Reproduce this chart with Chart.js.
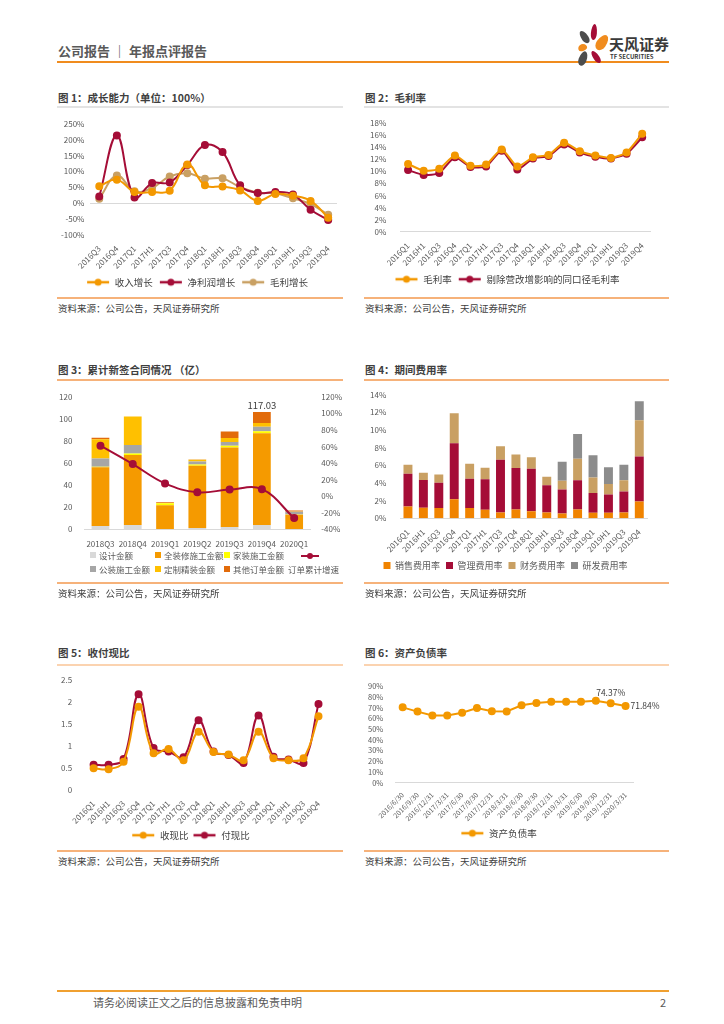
<!DOCTYPE html>
<html>
<head>
<meta charset="utf-8">
<script src="https://cdn.jsdelivr.net/npm/chart.js@4.4.1/dist/chart.umd.min.js"></script>
<style>
body{margin:0;width:724px;height:1024px;position:relative;background:#fff;overflow:hidden;
  font-family:"Noto Sans CJK SC","Noto Sans",sans-serif;color:#404040;}
.a{position:absolute;white-space:nowrap}
.hdr{left:58px;top:41px;font-size:13px;font-weight:bold;color:#595959}
.hline{left:57px;top:61px;width:612px;height:2px;background:#F08C1E}
.ttl{font-size:10.5px;font-weight:bold;color:#3f3f3f}
.rule{height:1.5px;background:#F6B27A}
.src{font-size:9.5px;color:#404040}
canvas{position:absolute}
.lg{font-size:8.5px;color:#595959;display:flex;align-items:center}
.lg i{display:inline-block;width:6px;height:6px;margin-right:3px}
.petal{position:absolute;border-radius:50% 50% 50% 50% / 60% 60% 40% 40%}
</style>
</head>
<body>
<div class="a hdr">公司报告 ｜ 年报点评报告</div>
<div class="a hline"></div>

<!-- logo -->
<div class="petal" style="left:581px;top:30px;width:7px;height:14px;background:#4d4d4d;transform:rotate(-35deg)"></div>
<div class="petal" style="left:591px;top:24px;width:6px;height:16px;background:#A50D37;transform:rotate(5deg)"></div>
<div class="petal" style="left:597px;top:34px;width:10px;height:17px;background:#F08C1E;transform:rotate(35deg)"></div>
<div class="petal" style="left:578px;top:44px;width:9px;height:7px;background:#F08C1E;transform:rotate(-20deg)"></div>
<div class="petal" style="left:579px;top:51px;width:8px;height:15px;background:#4d4d4d;transform:rotate(20deg)"></div>
<div class="petal" style="left:593px;top:50px;width:6px;height:14px;background:#A50D37;transform:rotate(-35deg)"></div>
<div class="a" style="left:609px;top:33px;font-size:15px;font-weight:bold;color:#3a3a3a">天风证券</div>
<div class="a" style="left:610px;top:52px;font-size:6px;color:#3a3a3a;font-weight:bold">TF SECURITIES</div>

<!-- titles -->
<div class="a ttl" style="left:58px;top:90px">图 1：成长能力（单位：100%）</div>
<div class="a ttl" style="left:365px;top:90px">图 2：毛利率</div>
<div class="a rule" style="left:57px;top:106px;width:286px;background:#E3E3E3"></div>
<div class="a rule" style="left:364px;top:106px;width:305px;background:#E3E3E3"></div>
<canvas id="c1" width="288" height="184" style="left:55px;top:113px"></canvas>
<canvas id="c2" width="305" height="182" style="left:364px;top:112px"></canvas>
<div class="a rule" style="left:57px;top:297px;width:286px"></div>
<div class="a rule" style="left:364px;top:297px;width:305px"></div>
<div class="a src" style="left:58px;top:301px">资料来源：公司公告，天风证券研究所</div>
<div class="a src" style="left:365px;top:301px">资料来源：公司公告，天风证券研究所</div>

<div class="a ttl" style="left:58px;top:362px">图 3：累计新签合同情况 （亿）</div>
<div class="a ttl" style="left:365px;top:362px">图 4：期间费用率</div>
<div class="a rule" style="left:57px;top:379px;width:286px"></div>
<div class="a rule" style="left:364px;top:379px;width:305px"></div>
<canvas id="c3" width="290" height="163" style="left:55px;top:388px"></canvas>
<div class="a lg" style="left:90px;top:549px"><i style="background:#D9D9D9"></i>设计金额</div>
<div class="a lg" style="left:155px;top:549px"><i style="background:#F59A00"></i>全装修施工金额</div>
<div class="a lg" style="left:224px;top:549px"><i style="background:#FFFF00"></i>家装施工金额</div>
<div class="a" style="left:301px;top:555px;width:18px;height:2px;background:#A50D37"></div>
<div class="a" style="left:307px;top:553px;width:6px;height:6px;border-radius:3px;background:#A50D37"></div>
<div class="a lg" style="left:90px;top:563px"><i style="background:#A6A6A6"></i>公装施工金额</div>
<div class="a lg" style="left:155px;top:563px"><i style="background:#FFC000"></i>定制精装金额</div>
<div class="a lg" style="left:224px;top:563px"><i style="background:#E26B0A"></i>其他订单金额</div>
<div class="a lg" style="left:288px;top:563px">订单累计增速</div>
<canvas id="c4" width="305" height="196" style="left:364px;top:384px"></canvas>
<div class="a rule" style="left:57px;top:582px;width:286px"></div>
<div class="a rule" style="left:364px;top:582px;width:305px"></div>
<div class="a src" style="left:58px;top:586px">资料来源：公司公告，天风证券研究所</div>
<div class="a src" style="left:365px;top:586px">资料来源：公司公告，天风证券研究所</div>

<div class="a ttl" style="left:58px;top:645px">图 5：收付现比</div>
<div class="a ttl" style="left:365px;top:645px">图 6：资产负债率</div>
<div class="a rule" style="left:57px;top:664px;width:286px;background:#FBD3B0"></div>
<div class="a rule" style="left:364px;top:664px;width:305px;background:#FBD3B0"></div>
<canvas id="c5" width="288" height="181" style="left:55px;top:669px"></canvas>
<canvas id="c6" width="305" height="170" style="left:364px;top:678px"></canvas>
<div class="a rule" style="left:57px;top:850px;width:286px"></div>
<div class="a rule" style="left:364px;top:850px;width:305px"></div>
<div class="a src" style="left:58px;top:854px">资料来源：公司公告，天风证券研究所</div>
<div class="a src" style="left:365px;top:854px">资料来源：公司公告，天风证券研究所</div>

<div class="a" style="left:57px;top:990px;width:612px;height:2px;background:#F0A030"></div>
<div class="a" style="left:93px;top:994px;font-size:11px;color:#595959">请务必阅读正文之后的信息披露和免责申明</div>
<div class="a" style="left:660px;top:994px;font-size:11px;color:#595959">2</div>

<script>
// ---- data ----
var growthCats = ['2016Q3','2016Q4','2017Q1','2017H1','2017Q3','2017Q4','2018Q1','2018H1','2018Q3','2018Q4','2019Q1','2019H1','2019Q3','2019Q4'];
var revenueGrowth = [53,74,35,35,39,122,56,52,40,7,29,23,7,-46];
var profitGrowth = [21,213,18,63,65,120,183,161,56,32,35,27,-21,-53];
var grossGrowth = [14,87,37,48,84,94,77,78,50,33,31,15,-3,-37];

var quarterCats = ['2016Q1','2016H1','2016Q3','2016Q4','2017Q1','2017H1','2017Q3','2017Q4','2018Q1','2018H1','2018Q3','2018Q4','2019Q1','2019H1','2019Q3','2019Q4'];
var grossMargin = [11.2,10.1,10.4,12.6,10.9,11.1,13.6,10.8,12.3,12.7,14.7,13.3,12.6,12.2,13.1,16.2];
var grossMarginAdj = [10.2,9.4,9.7,12.3,10.7,10.8,13.4,10.3,12.1,12.5,14.4,13.1,12.4,12.1,12.9,15.6];

var orderCats = ['2018Q3','2018Q4','2019Q1','2019Q2','2019Q3','2019Q4','2020Q1'];
var designAmt = [3.1,4.0,0.3,1.2,2.2,4.0,0.3];
var fullDecoAmt = [53.2,63.4,21.5,56.3,72.0,83.1,12.9];
var homeDecoAmt = [0.5,1.2,1.9,1.3,1.5,1.8,0.3];
var publicDecoAmt = [7.3,7.7,0,2.7,3.4,4.0,2.5];
var customAmt = [17.5,25.9,0.3,1.6,3.7,3.4,0.3];
var otherAmt = [1.3,0,0.5,0.2,5.8,9.9,0.9];
var orderGrowth = [61,38.8,15.5,4.8,8.1,8.5,-26.3];
var q4TotalText = '117.03';

var salesRate = [1.35,1.2,1.16,2.17,1.16,0.97,0.67,1.0,0.79,0.67,0.56,1.01,0.64,0.64,0.67,1.91];
var adminRate = [3.71,3.14,2.88,6.33,3.33,3.45,5.96,4.69,4.83,3.08,2.7,3.3,2.24,2.06,2.36,5.09];
var financeRate = [1.01,0.83,0.94,3.4,1.69,1.31,1.53,1.54,1.31,0.97,1.01,2.43,1.76,1.2,1.28,4.12];
var rdRate = [0,0,0,0,0,0,0,0,0,0,2.13,2.81,2.51,1.9,1.76,2.14];

var cashInRatio = [0.49,0.47,0.64,1.89,0.83,0.93,0.67,1.32,0.86,0.80,0.67,1.32,0.72,0.67,0.72,1.67];
var cashOutRatio = [0.57,0.57,0.70,2.17,0.95,0.87,0.74,1.58,0.87,0.79,0.61,1.69,0.75,0.69,0.61,1.95];

var debtDates = ['2016/6/30','2016/9/30','2016/12/31','2017/3/31','2017/6/30','2017/9/30','2017/12/31','2018/3/31','2018/6/30','2018/9/30','2018/12/31','2019/3/31','2019/6/30','2019/9/30','2019/12/31','2020/3/31'];
var debtRatio = [70.5,66.5,62.9,62.9,65.5,69.9,66.9,66.7,72.4,74.5,75.7,75.7,75.7,76.6,74.37,71.84];

// ---- style ----
var ORANGE = '#F39800', RED = '#A50D37', TAN = '#C9A063';
Chart.defaults.font.family = '"Noto Sans CJK SC","Noto Sans",sans-serif';
Chart.defaults.font.size = 8;
Chart.defaults.color = '#595959';
Chart.defaults.animation = false;
Chart.defaults.responsive = false;
Chart.defaults.plugins.tooltip.enabled = false;

function lineIcon(color){
	var c = document.createElement('canvas');
	c.width = 24; c.height = 10;
	var g = c.getContext('2d');
	g.strokeStyle = color; g.lineWidth = 2.5;
	g.beginPath(); g.moveTo(1,5); g.lineTo(23,5); g.stroke();
	g.fillStyle = color;
	g.beginPath(); g.arc(12,5,3.5,0,Math.PI*2); g.fill();
	return c;
}

function iconLegend(colors, pad){
	return {
		position:'bottom',
		labels:{
			usePointStyle:true, pointStyleWidth:24, boxHeight:10,
			font:{size:9.5}, color:'#404040', padding:pad||6,
			generateLabels:function(chart){
				var items = Chart.defaults.plugins.legend.labels.generateLabels(chart);
				items.forEach(function(it,i){ it.pointStyle = lineIcon(colors[i]); });
				return items;
			}
		}
	};
}

// writes text next to a drawn element
var textMarks = {
	id:'textMarks',
	afterDatasetsDraw:function(chart, args, opts){
		var ctx = chart.ctx;
		(opts.items||[]).forEach(function(it){
			var el = chart.getDatasetMeta(it.dataset).data[it.index];
			if(!el) return;
			ctx.save();
			ctx.font = (it.size||9)+'px "Noto Sans CJK SC"';
			ctx.fillStyle = '#404040';
			ctx.textAlign = it.align||'center';
			ctx.textBaseline = 'middle';
			ctx.fillText(it.text, el.x+(it.dx||0), el.y+(it.dy||0));
			ctx.restore();
		});
	}
};

function lineSet(label, data, color, tension, r){
	return {label:label, data:data, borderColor:color, backgroundColor:color,
		pointBackgroundColor:color, pointBorderColor:color, borderWidth:2,
		pointRadius:r||3, tension:tension};
}

function rotX(border){
	return {offset:true, grid:{display:false}, border:{display:!!border, color:'#D9D9D9'},
		ticks:{minRotation:45, maxRotation:45, autoSkip:false, padding:1}};
}
function yAxis(min, max, step, pct){
	return {min:min, max:max, border:{display:false}, grid:{display:false},
		ticks:{stepSize:step, autoSkip:false, padding:6,
			callback:function(v){return pct ? v+'%' : v;}}};
}

// ---- chart 1 ----
var y1 = yAxis(-100, 250, 50, true);
y1.grid = {display:true, drawTicks:false,
	color:function(c){return c.tick && c.tick.value===0 ? '#D9D9D9' : 'rgba(0,0,0,0)';}};
new Chart("c1", {
	type:'line',
	data:{labels:growthCats, datasets:[
		lineSet('收入增长', revenueGrowth, ORANGE, 0.4),
		lineSet('净利润增长', profitGrowth, RED, 0.4),
		lineSet('毛利增长', grossGrowth, TAN, 0.4)
	]},
	options:{
		layout:{padding:{top:4,right:4}},
		scales:{x:rotX(false), y:y1},
		plugins:{legend:iconLegend([ORANGE,RED,TAN])}
	}
});

// ---- chart 2 ----
new Chart("c2", {
	type:'line',
	data:{labels:quarterCats, datasets:[
		lineSet('毛利率', grossMargin, ORANGE, 0.2),
		lineSet('剔除营改增影响的同口径毛利率', grossMarginAdj, RED, 0.2)
	]},
	options:{
		layout:{padding:{top:4,right:19}},
		scales:{x:rotX(true), y:yAxis(0, 18, 2, true)},
		plugins:{legend:iconLegend([ORANGE,RED])}
	}
});

// ---- chart 3 ----
function barSet(label, data, color){
	return {type:'bar', label:label, data:data, backgroundColor:color, yAxisID:'y', order:1,
		barPercentage:0.55, categoryPercentage:1};
}
var yRight = yAxis(-40, 120, 20, true);
yRight.position = 'right';
yRight.ticks.padding = 3;
var yLeft = yAxis(0, 120, 20, false);
yLeft.stacked = true;
yLeft.ticks.padding = 4;
new Chart("c3", {
	type:'bar',
	data:{labels:orderCats, datasets:[
		barSet('设计金额', designAmt, '#D9D9D9'),
		barSet('全装修施工金额', fullDecoAmt, '#F59A00'),
		barSet('家装施工金额', homeDecoAmt, '#FFFF00'),
		barSet('公装施工金额', publicDecoAmt, '#A6A6A6'),
		barSet('定制精装金额', customAmt, '#FFC000'),
		barSet('其他订单金额', otherAmt, '#E26B0A'),
		{type:'line', label:'订单累计增速', data:orderGrowth, yAxisID:'y1', order:0,
			borderColor:RED, backgroundColor:RED, borderWidth:2, pointRadius:3, tension:0.4}
	]},
	options:{
		layout:{padding:{top:4}},
		scales:{
			x:{stacked:true, grid:{display:false}, border:{display:true, color:'#D9D9D9'},
				ticks:{maxRotation:0, autoSkip:false, padding:2}},
			y:yLeft,
			y1:yRight
		},
		plugins:{
			legend:{display:false},
			textMarks:{items:[{dataset:5, index:5, text:q4TotalText, dy:-7, size:9.5}]}
		}
	},
	plugins:[textMarks]
});

// ---- chart 4 ----
function stackSet(label, data, color){
	return {label:label, data:data, backgroundColor:color, barPercentage:0.58, categoryPercentage:1};
}
var y4 = yAxis(0, 14, 2, true);
y4.stacked = true;
var x4 = rotX(true);
x4.stacked = true;
new Chart("c4", {
	type:'bar',
	data:{labels:quarterCats, datasets:[
		stackSet('销售费用率', salesRate, '#F08300'),
		stackSet('管理费用率', adminRate, RED),
		stackSet('财务费用率', financeRate, TAN),
		stackSet('研发费用率', rdRate, '#8C8C8C')
	]},
	options:{
		layout:{padding:{top:4,right:22}},
		scales:{x:x4, y:y4},
		plugins:{legend:{position:'bottom', labels:{boxWidth:7, boxHeight:7, font:{size:9}, padding:6}}}
	}
});

// ---- chart 5 ----
new Chart("c5", {
	type:'line',
	data:{labels:quarterCats, datasets:[
		lineSet('收现比', cashInRatio, ORANGE, 0.4),
		lineSet('付现比', cashOutRatio, RED, 0.4)
	]},
	options:{
		layout:{padding:{top:2,right:17}},
		scales:{x:rotX(false), y:yAxis(0, 2.5, 0.5, false)},
		plugins:{legend:iconLegend([ORANGE,RED], 4)}
	}
});

// ---- chart 6 ----
var y6 = yAxis(0, 90, 10, true);
y6.ticks.font = {size:7.5};
y6.ticks.padding = 4;
var x6 = rotX(true);
x6.ticks.font = {size:7};
x6.ticks.padding = 0;
new Chart("c6", {
	type:'line',
	data:{labels:debtDates, datasets:[
		lineSet('资产负债率', debtRatio, ORANGE, 0, 3)
	]},
	options:{
		layout:{padding:{top:4,right:36}},
		scales:{x:x6, y:y6},
		plugins:{
			legend:iconLegend([ORANGE]),
			textMarks:{items:[
				{dataset:0, index:14, text:debtRatio[14].toFixed(2)+'%', dy:-10, size:8.5},
				{dataset:0, index:15, text:debtRatio[15].toFixed(2)+'%', dx:5, align:'left', size:8.5}
			]}
		}
	},
	plugins:[textMarks]
});
</script>
</body>
</html>
